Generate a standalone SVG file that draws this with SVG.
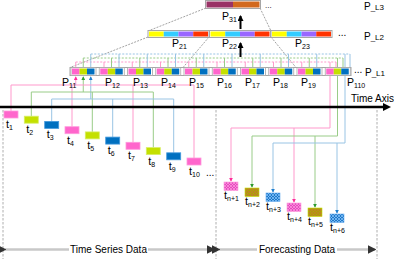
<svg xmlns="http://www.w3.org/2000/svg" xmlns:xlink="http://www.w3.org/1999/xlink" width="394" height="259" viewBox="0 0 394 259">
<style>
text{font-family:"Liberation Sans",Arial,sans-serif;fill:#000}
.lbl{font-size:10px}
.pl{font-size:10.5px}
.sub{font-size:7px}
.gb{fill:#fff;stroke:#a6a6a6;stroke-width:0.8}
.bar{fill:#fff;stroke:#a6a6a6;stroke-width:1}
.pk{fill:#ff66cc}.lm{fill:#c4e000}.bl{fill:#0070c0}
.tb-pk{fill:#ff66cc;stroke:#ff99dd;stroke-width:0.8}
.tb-lm{fill:#c4e000;stroke:#d8ee66;stroke-width:0.8}
.tb-bl{fill:#0070c0;stroke:#4499dd;stroke-width:0.8}
.lp{stroke:#ff99cc;fill:none;stroke-width:1}
.lg{stroke:#99cc88;fill:none;stroke-width:1}
.lb{stroke:#99c4e4;fill:none;stroke-width:1}
.dash{stroke-dasharray:2 1.5}
.gd{stroke:#8c8c8c;fill:none;stroke-width:0.8;stroke-dasharray:2 1.2}
.vd{stroke:#9a9a9a;fill:none;stroke-width:0.8;stroke-dasharray:2.5 1.5}
</style>
<defs>
<g id="l1g">
<rect x="1" y="0" width="25" height="8" class="gb"/>
<rect x="2" y="1" width="7.5" height="6" class="pk"/>
<rect x="9.5" y="1" width="7.5" height="6" class="lm"/>
<rect x="17" y="1" width="7.5" height="6" class="bl"/>
</g>
<g id="l2g">
<rect x="0" y="0" width="61" height="7" class="bar"/>
<rect x="1" y="1" width="14.75" height="5" fill="#ffff00"/>
<rect x="15.75" y="1" width="14.75" height="5" fill="#33ccff"/>
<rect x="30.5" y="1" width="14.75" height="5" fill="#9966ff"/>
<rect x="45.25" y="1" width="14.75" height="5" fill="#ff3300"/>
</g>
<pattern id="hpk" width="3" height="3" patternUnits="userSpaceOnUse">
<rect width="3" height="3" fill="#e64cc0"/>
<path d="M0 0L3 3M3 0L0 3" stroke="#ff9be0" stroke-width="0.7"/>
</pattern>
<pattern id="hlm" width="3" height="3" patternUnits="userSpaceOnUse">
<rect width="3" height="3" fill="#a8a800"/>
<path d="M0 0L3 3M3 0L0 3" stroke="#c8703a" stroke-width="0.7"/>
</pattern>
<pattern id="hbl" width="3" height="3" patternUnits="userSpaceOnUse">
<rect width="3" height="3" fill="#1f78c8"/>
<path d="M0 0L3 3M3 0L0 3" stroke="#8cc8ff" stroke-width="0.7"/>
</pattern>
<marker id="apk" viewBox="0 0 6 6" refX="5" refY="3" markerWidth="4" markerHeight="4" orient="auto"><path d="M0 0L6 3L0 6z" fill="#ff2b9a"/></marker>
<marker id="agr" viewBox="0 0 6 6" refX="5" refY="3" markerWidth="4" markerHeight="4" orient="auto"><path d="M0 0L6 3L0 6z" fill="#2e9a2e"/></marker>
<marker id="abl" viewBox="0 0 6 6" refX="5" refY="3" markerWidth="4" markerHeight="4" orient="auto"><path d="M0 0L6 3L0 6z" fill="#1f7fd0"/></marker>
<marker id="ablk" viewBox="0 0 6 6" refX="5" refY="3" markerWidth="3" markerHeight="3" orient="auto"><path d="M0 0L6 3L0 6z" fill="#000"/></marker>
<marker id="adk" viewBox="0 0 6 6" refX="5" refY="3" markerWidth="3.5" markerHeight="3.5" orient="auto"><path d="M0 0L6 3L0 6z" fill="#333"/></marker>
</defs>

<g id="regions">
<path class="vd" d="M3 110V259M216 110V259M377 110V259"/>
<line x1="5" y1="249.5" x2="214" y2="249.5" stroke="#c8c8c8" stroke-width="2.5" marker-start="url(#adk)" marker-end="url(#adk)"/>
<line x1="219" y1="249.5" x2="375" y2="249.5" stroke="#c8c8c8" stroke-width="2.5" marker-start="url(#adk)" marker-end="url(#adk)"/>
<rect x="69" y="244" width="79" height="11" fill="#fff"/>
<rect x="257" y="244" width="80" height="11" fill="#fff"/>
<text class="lbl" x="108.5" y="253" text-anchor="middle">Time Series Data</text>
<text class="lbl" x="297" y="253" text-anchor="middle">Forecasting Data</text>
</g>

<g id="connectors">
<path class="gd" d="M206 8L148 31M260 8L271 31M148 37L70 67.5M209 37L183 67.5M271 37L296 67.5"/>
<path class="lb dash" d="M90.75 54H350"/>
<path class="lg dash" d="M83.25 58H343"/>
<path class="lp dash" d="M75.75 62H336"/>
<path class="lb" d="M90.75 54V67.5M119 54V67.5M147.25 54V67.5M175.5 54V67.5M203.75 54V67.5M232 54V67.5M260.25 54V67.5M288.5 54V67.5M316.75 54V67.5M345 54V67.5M350 54V67.5"/>
<path class="lg" d="M83.25 58V67.5M111.5 58V67.5M139.75 58V67.5M168 58V67.5M196.25 58V67.5M224.5 58V67.5M252.75 58V67.5M281 58V67.5M309.25 58V67.5M337.5 58V67.5M343 58V67.5"/>
<path class="lp" d="M75.75 62V67.5M104 62V67.5M132.25 62V67.5M160.5 62V67.5M188.75 62V67.5M217 62V67.5M245.25 62V67.5M273.5 62V67.5M301.75 62V67.5M330 62V67.5M336 62V67.5"/>
<path class="lp" d="M75.75 85V77" marker-end="url(#apk)"/>
<path class="lg" d="M83.25 92V77" marker-end="url(#agr)"/>
<path class="lb" d="M90.75 99V77" marker-end="url(#abl)"/>
<path class="lp" d="M11 111V85H194V158M72 85V126.7M133 85V142.3"/>
<path class="lg" d="M31.3 116.2V92H153.3V147.6M92.3 92V131.9"/>
<path class="lb" d="M51.7 121.4V99H173.7V152.8M112.7 99V137.1"/>
<path class="lp" d="M330 76V128H231V181" marker-end="url(#apk)"/>
<path class="lp" d="M294 128V202" marker-end="url(#apk)"/>
<path class="lg" d="M337.5 76V136H252V187" marker-end="url(#agr)"/>
<path class="lg" d="M315 136V207" marker-end="url(#agr)"/>
<path class="lb" d="M345 76V143H273V192" marker-end="url(#abl)"/>
<path class="lb" d="M337 143V213" marker-end="url(#abl)"/>
</g>

<g id="time-axis">
<line x1="0" y1="107" x2="385" y2="107" stroke="#000" stroke-width="2.5"/>
<path d="M383 103L391 107L383 111z" fill="#000"/>
<text class="lbl" x="351" y="102" font-size="10.5px">Time Axis</text>
</g>

<g id="L3">
<rect x="205.5" y="0.5" width="55" height="8" class="bar"/>
<rect x="206.5" y="1.5" width="26.5" height="6" fill="#993366"/>
<rect x="233" y="1.5" width="26.5" height="6" fill="#d2691e"/>
<text x="265" y="8" font-size="8px">...</text>
<text x="364" y="9.5"><tspan font-size="10px">P</tspan><tspan font-size="8px">_L3</tspan></text>
</g>
<g id="P31">
<text x="222" y="19.5"><tspan class="pl">P</tspan><tspan class="sub" dy="2">31</tspan></text>
<line x1="240.5" y1="29" x2="240.5" y2="16" stroke="#000" stroke-width="2" marker-end="url(#ablk)"/>
</g>

<g id="L2">
<use xlink:href="#l2g" x="148" y="30.5"/>
<use xlink:href="#l2g" x="209.5" y="30.5"/>
<use xlink:href="#l2g" x="271" y="30.5"/>
<text class="lbl" x="338" y="36">...</text>
<text x="364" y="40"><tspan font-size="10px">P</tspan><tspan font-size="8px">_L2</tspan></text>
</g>
<g id="P21"><text x="172" y="46.5"><tspan class="pl">P</tspan><tspan class="sub" dy="2">21</tspan></text></g>
<g id="P22"><text x="222" y="46.5"><tspan class="pl">P</tspan><tspan class="sub" dy="2">22</tspan></text>
<line x1="240.5" y1="57" x2="240.5" y2="43" stroke="#000" stroke-width="2" marker-end="url(#ablk)"/></g>
<g id="P23"><text x="295" y="46.5"><tspan class="pl">P</tspan><tspan class="sub" dy="2">23</tspan></text></g>

<g id="L1">
<rect x="70" y="67.5" width="281" height="8" class="bar"/>
<use xlink:href="#l1g" x="70" y="67.5"/>
<use xlink:href="#l1g" x="98.25" y="67.5"/>
<use xlink:href="#l1g" x="126.5" y="67.5"/>
<use xlink:href="#l1g" x="154.75" y="67.5"/>
<use xlink:href="#l1g" x="183" y="67.5"/>
<use xlink:href="#l1g" x="211.25" y="67.5"/>
<use xlink:href="#l1g" x="239.5" y="67.5"/>
<use xlink:href="#l1g" x="267.75" y="67.5"/>
<use xlink:href="#l1g" x="296" y="67.5"/>
<use xlink:href="#l1g" x="324.25" y="67.5"/>
<text class="lbl" x="354" y="73">...</text>
<text x="365" y="76"><tspan font-size="10px">P</tspan><tspan font-size="8px">_L1</tspan></text>
</g>
<g id="P1-labels">
<text x="62" y="85.5"><tspan class="pl">P</tspan><tspan class="sub" dy="2">11</tspan></text>
<text x="105" y="85.5"><tspan class="pl">P</tspan><tspan class="sub" dy="2">12</tspan></text>
<text x="133" y="85.5"><tspan class="pl">P</tspan><tspan class="sub" dy="2">13</tspan></text>
<text x="161" y="85.5"><tspan class="pl">P</tspan><tspan class="sub" dy="2">14</tspan></text>
<text x="189" y="85.5"><tspan class="pl">P</tspan><tspan class="sub" dy="2">15</tspan></text>
<text x="217" y="85.5"><tspan class="pl">P</tspan><tspan class="sub" dy="2">16</tspan></text>
<text x="245" y="85.5"><tspan class="pl">P</tspan><tspan class="sub" dy="2">17</tspan></text>
<text x="273" y="85.5"><tspan class="pl">P</tspan><tspan class="sub" dy="2">18</tspan></text>
<text x="301" y="85.5"><tspan class="pl">P</tspan><tspan class="sub" dy="2">19</tspan></text>
<text x="347" y="85.5"><tspan class="pl">P</tspan><tspan class="sub" dy="2">110</tspan></text>
</g>

<g id="t1"><rect x="4" y="111" width="14" height="7" class="tb-pk"/><text x="6" y="128"><tspan font-size="11px">t</tspan><tspan class="sub" dy="2">1</tspan></text></g>
<g id="t2"><rect x="24.3" y="116.2" width="14" height="7" class="tb-lm"/><text x="26.3" y="133.2"><tspan font-size="11px">t</tspan><tspan class="sub" dy="2">2</tspan></text></g>
<g id="t3"><rect x="44.7" y="121.4" width="14" height="7" class="tb-bl"/><text x="46.7" y="138.4"><tspan font-size="11px">t</tspan><tspan class="sub" dy="2">3</tspan></text></g>
<g id="t4"><rect x="65" y="126.7" width="14" height="7" class="tb-pk"/><text x="67" y="143.7"><tspan font-size="11px">t</tspan><tspan class="sub" dy="2">4</tspan></text></g>
<g id="t5"><rect x="85.3" y="131.9" width="14" height="7" class="tb-lm"/><text x="87.3" y="148.9"><tspan font-size="11px">t</tspan><tspan class="sub" dy="2">5</tspan></text></g>
<g id="t6"><rect x="105.7" y="137.1" width="14" height="7" class="tb-bl"/><text x="107.7" y="154.1"><tspan font-size="11px">t</tspan><tspan class="sub" dy="2">6</tspan></text></g>
<g id="t7"><rect x="126" y="142.3" width="14" height="7" class="tb-pk"/><text x="128" y="159.3"><tspan font-size="11px">t</tspan><tspan class="sub" dy="2">7</tspan></text></g>
<g id="t8"><rect x="146.3" y="147.6" width="14" height="7" class="tb-lm"/><text x="148.3" y="164.6"><tspan font-size="11px">t</tspan><tspan class="sub" dy="2">8</tspan></text></g>
<g id="t9"><rect x="166.7" y="152.8" width="14" height="7" class="tb-bl"/><text x="168.7" y="169.8"><tspan font-size="11px">t</tspan><tspan class="sub" dy="2">9</tspan></text></g>
<g id="t10"><rect x="187" y="158" width="14" height="7" class="tb-pk"/><text x="189" y="175"><tspan font-size="11px">t</tspan><tspan class="sub" dy="2">10</tspan></text>
<text class="lbl" x="206" y="176">...</text></g>

<g id="tn1"><rect x="224" y="182" width="14" height="8.5" fill="url(#hpk)" stroke="#ff99dd" stroke-width="0.6"/><text x="224" y="199"><tspan font-size="11px">t</tspan><tspan class="sub" dy="2">n+1</tspan></text></g>
<g id="tn2"><rect x="245" y="188" width="14" height="8.5" fill="url(#hlm)" stroke="#c4e000" stroke-width="0.6"/><text x="245" y="205"><tspan font-size="11px">t</tspan><tspan class="sub" dy="2">n+2</tspan></text></g>
<g id="tn3"><rect x="266" y="193" width="14" height="8.5" fill="url(#hbl)" stroke="#66aaee" stroke-width="0.6"/><text x="266" y="210"><tspan font-size="11px">t</tspan><tspan class="sub" dy="2">n+3</tspan></text></g>
<g id="tn4"><rect x="287" y="203" width="14" height="8.5" fill="url(#hpk)" stroke="#ff99dd" stroke-width="0.6"/><text x="287" y="220"><tspan font-size="11px">t</tspan><tspan class="sub" dy="2">n+4</tspan></text></g>
<g id="tn5"><rect x="308" y="208" width="14" height="8.5" fill="url(#hlm)" stroke="#c4e000" stroke-width="0.6"/><text x="308" y="225"><tspan font-size="11px">t</tspan><tspan class="sub" dy="2">n+5</tspan></text></g>
<g id="tn6"><rect x="330" y="214" width="14" height="8.5" fill="url(#hbl)" stroke="#66aaee" stroke-width="0.6"/><text x="330" y="231"><tspan font-size="11px">t</tspan><tspan class="sub" dy="2">n+6</tspan></text></g>
</svg>
